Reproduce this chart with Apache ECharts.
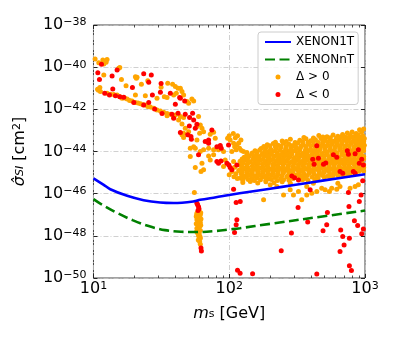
<!DOCTYPE html>
<html><head><meta charset="utf-8">
<script src="https://cdn.jsdelivr.net/npm/echarts@6/dist/echarts.min.js"></script>
<style>html,body{margin:0;padding:0;background:#fff}#c{width:398px;height:342px}</style>
</head><body><div id="c"></div><script>
const FONT = 'DejaVu Sans';

// Exclusion limit curves: mass [GeV], cross-section [cm^2]
const massXenon1T = [10, 11.9, 13.3, 17.7, 23.4, 31, 39, 55, 61, 80, 100, 142, 200, 300, 500, 1000];
const sigmaXenon1T = [5.37e-46, 2.63e-46, 1.62e-46, 7.9e-47, 4.9e-47, 3.8e-47, 3.6e-47, 4.3e-47, 5.1e-47, 6.8e-47, 8.7e-47, 1.23e-46, 1.72e-46, 2.57e-46, 4.27e-46, 8.3e-46];
const massXenonNT = [10, 11.3, 14.9, 19.6, 25.5, 33.6, 44.2, 58, 80, 100, 120, 200, 500, 1000];
const sigmaXenonNT = [5.5e-47, 3.3e-47, 1.23e-47, 5.4e-48, 2.9e-48, 1.86e-48, 1.55e-48, 1.51e-48, 1.7e-48, 2.0e-48, 2.3e-48, 3.7e-48, 8.5e-48, 1.58e-47];

// Scan points as [log10(m / GeV), log10(sigma / cm^2)]
const posUpperBand = [
[1.012,-39.61],[1.039,-39.79],[1.069,-39.66],[1.093,-39.77],[1.100,-39.64],[1.076,-39.85],
[1.047,-40.97],[1.037,-41.10],[1.051,-41.16],[1.030,-41.05],[1.076,-40.37],
[1.194,-40.01],[1.186,-40.05],[1.206,-40.58],[1.240,-40.88],[1.309,-40.45],[1.321,-40.48],[1.316,-40.53],[1.353,-40.81],[1.400,-40.64],
[1.498,-40.95],[1.547,-40.76],[1.583,-40.81],[1.603,-40.92],[1.623,-41.00],[1.640,-41.00],
[1.468,-41.48],[1.522,-41.40],[1.542,-41.44],[1.591,-41.32],[1.610,-41.24],[1.652,-41.16],[1.664,-41.32],[1.689,-41.63],[1.701,-41.71],
[1.100,-41.24],[1.125,-41.29],[1.150,-41.30],[1.174,-41.32],[1.195,-41.40],[1.211,-41.48],[1.230,-41.46],[1.248,-41.51],[1.266,-41.58],[1.284,-41.60],[1.309,-41.67],[1.328,-41.70],[1.346,-41.73],[1.365,-41.78],[1.382,-41.79],[1.400,-41.86],[1.419,-41.89],[1.444,-41.95],[1.468,-42.03],[1.493,-42.08],[1.517,-42.14],[1.542,-42.20],[1.566,-42.23],[1.603,-42.27],[1.640,-42.34],[1.664,-42.39],
[1.309,-41.32],[1.382,-41.35],[1.542,-42.30],[1.590,-42.37],[1.627,-42.50],[1.652,-42.69],[1.676,-42.90],[1.701,-43.06],[1.664,-43.13],[1.762,-43.45],[1.738,-43.77],[1.713,-44.24],[1.750,-43.85]
];
const posMidBand = [
[1.725,-41.51],[1.738,-41.60],[1.774,-42.34],[1.787,-42.74],[1.762,-42.82],[1.799,-42.90],[1.782,-43.13],[1.811,-43.06],[1.652,-43.21],[1.664,-43.34],[1.885,-43.09],[1.860,-43.18],[1.897,-43.37],[1.713,-43.85],[1.787,-44.00],[1.811,-43.92],[1.848,-43.85],[1.885,-43.92],[1.921,-43.92],[1.958,-44.00],[1.988,-43.37],[2.007,-43.45],[2.032,-43.61],[2.056,-43.69],[2.061,-43.25],[2.086,-43.45],[2.051,-43.92],[2.019,-44.00],[2.076,-43.85],[2.105,-44.00],[1.848,-44.21],[1.885,-44.16],[1.860,-44.40],[1.970,-44.40],[1.958,-44.71],[2.032,-44.48],[2.081,-44.64],[2.118,-44.79],[2.130,-44.95],[2.093,-45.03],[1.750,-44.76],[1.799,-44.56],[1.811,-44.87],[1.792,-44.95],[2.142,-45.11],[2.113,-45.19],
[2.000,-43.25],[2.030,-43.15],[2.045,-43.35],[2.070,-43.60],[2.040,-43.78],[2.090,-43.95],[2.130,-44.05],[2.020,-44.95],[2.050,-45.05],[2.070,-44.90],[2.035,-45.20],[2.060,-45.28],[2.000,-45.10],[2.040,-44.75]
];
const posSpike = [
[1.777,-46.80],[1.769,-46.88],[1.762,-46.93],[1.774,-46.95],[1.790,-46.90],[1.787,-47.00],[1.760,-47.02],[1.757,-47.08],[1.769,-47.11],[1.782,-47.16],[1.792,-47.20],[1.762,-47.24],[1.774,-47.32],[1.787,-47.37],[1.757,-47.43],[1.769,-47.48],[1.790,-47.50],[1.782,-47.56],[1.762,-47.64],[1.774,-47.72],[1.787,-47.75],[1.760,-47.80],[1.767,-47.86],[1.779,-47.91],[1.774,-48.00],[1.785,-48.04],[1.787,-48.12],[1.772,-48.20],[1.782,-48.27],[1.787,-48.40],[1.743,-45.95]
];
const posCloud = [
[2.96,-42.97],[2.99,-42.93],[2.87,-43.12],[2.905,-43.07],[2.935,-43.15],[2.975,-43.08],
[2.66,-43.24],[2.72,-43.30],[2.765,-43.22],[2.80,-43.28],[2.835,-43.19],[2.855,-43.33],[2.89,-43.24],[2.92,-43.29],[2.95,-43.21],[2.985,-43.26],
[2.39,-43.50],[2.45,-43.42],[2.52,-43.47],[2.565,-43.40],[2.60,-43.49],[2.635,-43.44],[2.675,-43.38],[2.705,-43.47],[2.74,-43.41],[2.775,-43.50],[2.81,-43.43],[2.845,-43.46],[2.88,-43.40],[2.915,-43.48],[2.945,-43.42],[2.975,-43.47],[2.995,-43.38],
[2.28,-43.68],[2.325,-43.62],[2.36,-43.70],[2.40,-43.61],[2.44,-43.66],[2.475,-43.71],[2.505,-43.60],[2.545,-43.67],[2.585,-43.63],[2.62,-43.69],[2.655,-43.60],[2.69,-43.66],[2.725,-43.71],[2.76,-43.62],[2.795,-43.68],[2.83,-43.63],[2.865,-43.70],[2.90,-43.61],[2.935,-43.67],[2.97,-43.64],[2.995,-43.70],
[2.235,-43.86],[2.27,-43.82],[2.305,-43.89],[2.345,-43.84],[2.38,-43.80],[2.415,-43.88],[2.455,-43.83],[2.49,-43.87],[2.525,-43.81],[2.565,-43.86],[2.60,-43.90],[2.635,-43.82],[2.67,-43.87],[2.705,-43.83],[2.745,-43.89],[2.78,-43.81],[2.815,-43.86],[2.85,-43.84],[2.885,-43.89],[2.92,-43.82],[2.955,-43.87],[2.99,-43.83],
[2.17,-44.07],[2.205,-44.02],[2.245,-44.09],[2.285,-44.04],[2.32,-44.00],[2.355,-44.08],[2.395,-44.03],[2.43,-44.07],[2.465,-44.01],[2.505,-44.06],[2.54,-44.10],[2.575,-44.03],[2.615,-44.07],[2.65,-44.02],[2.685,-44.09],[2.72,-44.04],[2.76,-44.00],[2.795,-44.07],[2.835,-44.03],[2.87,-44.08],[2.905,-44.02],[2.94,-44.06],[2.975,-44.01],
[2.11,-44.27],[2.145,-44.22],[2.18,-44.29],[2.22,-44.24],[2.26,-44.20],[2.295,-44.28],[2.33,-44.23],[2.37,-44.27],[2.405,-44.21],[2.445,-44.26],[2.48,-44.30],[2.52,-44.23],[2.555,-44.27],[2.59,-44.22],[2.63,-44.28],[2.665,-44.24],[2.70,-44.20],[2.74,-44.27],[2.775,-44.23],[2.81,-44.29],[2.85,-44.22],[2.885,-44.26],[2.92,-44.21],[2.955,-44.28],[2.99,-44.24],
[2.08,-44.46],[2.12,-44.42],[2.155,-44.49],[2.195,-44.44],[2.23,-44.40],[2.27,-44.48],[2.305,-44.43],[2.345,-44.47],[2.385,-44.41],[2.42,-44.46],[2.46,-44.50],[2.495,-44.43],[2.535,-44.47],[2.57,-44.42],[2.61,-44.48],[2.645,-44.44],[2.685,-44.40],[2.72,-44.47],[2.76,-44.43],[2.795,-44.49],[2.835,-44.42],[2.87,-44.46],[2.905,-44.41],[2.94,-44.48],[2.975,-44.44],
[2.09,-44.67],[2.13,-44.62],[2.17,-44.69],[2.205,-44.64],[2.245,-44.60],[2.28,-44.68],[2.32,-44.63],[2.355,-44.67],[2.395,-44.61],[2.435,-44.66],[2.47,-44.70],[2.51,-44.63],[2.545,-44.67],[2.585,-44.62],[2.62,-44.68],[2.66,-44.64],[2.695,-44.60],[2.735,-44.67],[2.77,-44.63],[2.81,-44.69],[2.845,-44.62],[2.88,-44.66],[2.92,-44.61],[2.955,-44.68],[2.99,-44.63],
[2.08,-44.86],[2.115,-44.82],[2.15,-44.89],[2.19,-44.84],[2.23,-44.80],[2.265,-44.88],[2.30,-44.83],[2.34,-44.87],[2.38,-44.81],[2.415,-44.86],[2.455,-44.90],[2.49,-44.83],[2.53,-44.87],[2.565,-44.82],[2.60,-44.88],[2.64,-44.84],[2.675,-44.80],[2.715,-44.87],[2.75,-44.83],[2.79,-44.89],[2.825,-44.82],[2.86,-44.86],[2.90,-44.81],[2.935,-44.88],[2.97,-44.84],
[2.09,-45.07],[2.13,-45.02],[2.17,-45.09],[2.21,-45.04],[2.25,-45.00],[2.285,-45.08],[2.325,-45.03],[2.36,-45.07],[2.40,-45.01],[2.44,-45.06],[2.475,-45.10],[2.515,-45.03],[2.55,-45.07],[2.59,-45.02],[2.625,-45.08],[2.665,-45.04],[2.70,-45.00],[2.74,-45.06],[2.78,-45.03],[2.815,-45.08],[2.855,-45.02],[2.89,-45.06],[2.93,-45.01],
[2.08,-45.26],[2.12,-45.22],[2.165,-45.29],[2.205,-45.24],[2.25,-45.20],[2.29,-45.28],[2.335,-45.23],[2.38,-45.27],[2.425,-45.21],[2.47,-45.28],[2.52,-45.22],[2.56,-45.27],[2.61,-45.21],[2.655,-45.26],[2.70,-45.22],[2.745,-45.24],
[2.10,-45.47],[2.155,-45.42],[2.21,-45.49],[2.27,-45.44],[2.33,-45.48],[2.39,-45.43],[2.45,-45.50]
];
const posCloudInner = [
[2.55,-43.34],[2.62,-43.36],[2.69,-43.31],[2.745,-43.35],[2.79,-43.37],[2.82,-43.33],[2.87,-43.35],[2.905,-43.32],[2.94,-43.36],[2.97,-43.33],
[2.34,-43.56],[2.42,-43.53],[2.485,-43.57],[2.54,-43.54],[2.58,-43.56],[2.62,-43.53],[2.655,-43.57],[2.69,-43.54],[2.725,-43.56],[2.76,-43.53],[2.795,-43.57],[2.83,-43.55],[2.865,-43.53],[2.895,-43.57],[2.93,-43.54],[2.96,-43.56],[2.99,-43.53],
[2.255,-43.76],[2.30,-43.73],[2.34,-43.77],[2.38,-43.74],[2.42,-43.76],[2.46,-43.73],[2.49,-43.77],[2.53,-43.74],[2.565,-43.76],[2.60,-43.73],[2.64,-43.77],[2.675,-43.74],[2.71,-43.76],[2.745,-43.73],[2.78,-43.77],[2.815,-43.74],[2.85,-43.76],[2.885,-43.73],[2.92,-43.77],[2.955,-43.74],[2.985,-43.76],
[2.19,-43.96],[2.225,-43.93],[2.265,-43.97],[2.305,-43.94],[2.34,-43.96],[2.375,-43.93],[2.415,-43.97],[2.45,-43.94],[2.485,-43.96],[2.52,-43.93],[2.56,-43.97],[2.595,-43.94],[2.63,-43.96],[2.665,-43.93],[2.705,-43.97],[2.74,-43.94],[2.775,-43.96],[2.815,-43.93],[2.85,-43.97],[2.885,-43.94],[2.92,-43.96],[2.96,-43.93],[2.99,-43.97],
[2.13,-44.16],[2.165,-44.13],[2.20,-44.17],[2.24,-44.14],[2.275,-44.16],[2.31,-44.13],[2.35,-44.17],[2.385,-44.14],[2.425,-44.16],[2.46,-44.13],[2.50,-44.17],[2.535,-44.14],[2.57,-44.16],[2.61,-44.13],[2.645,-44.17],[2.68,-44.14],[2.72,-44.16],[2.755,-44.13],[2.79,-44.17],[2.83,-44.14],[2.865,-44.16],[2.90,-44.13],[2.935,-44.17],[2.97,-44.14],
[2.095,-44.36],[2.135,-44.33],[2.175,-44.37],[2.21,-44.34],[2.25,-44.36],[2.285,-44.33],[2.325,-44.37],[2.36,-44.34],[2.40,-44.36],[2.435,-44.33],[2.475,-44.37],[2.51,-44.34],[2.55,-44.36],[2.585,-44.33],[2.625,-44.37],[2.66,-44.34],[2.70,-44.36],[2.735,-44.33],[2.775,-44.37],[2.81,-44.34],[2.85,-44.36],[2.885,-44.33],[2.925,-44.37],[2.96,-44.34],[2.99,-44.36],
[2.10,-44.56],[2.14,-44.53],[2.18,-44.57],[2.215,-44.54],[2.255,-44.56],[2.29,-44.53],[2.33,-44.57],[2.37,-44.54],[2.405,-44.56],[2.445,-44.53],[2.48,-44.57],[2.52,-44.54],[2.555,-44.56],[2.595,-44.53],[2.63,-44.57],[2.67,-44.54],[2.705,-44.56],[2.745,-44.53],[2.78,-44.57],[2.82,-44.54],[2.855,-44.56],[2.895,-44.53],[2.93,-44.57],[2.97,-44.54],
[2.10,-44.76],[2.135,-44.73],[2.175,-44.77],[2.21,-44.74],[2.25,-44.76],[2.285,-44.73],[2.325,-44.77],[2.36,-44.74],[2.40,-44.76],[2.435,-44.73],[2.475,-44.77],[2.51,-44.74],[2.55,-44.76],[2.585,-44.73],[2.625,-44.77],[2.66,-44.74],[2.70,-44.76],[2.735,-44.73],[2.775,-44.77],[2.81,-44.74],[2.85,-44.76],[2.885,-44.73],[2.925,-44.77],[2.96,-44.74],[2.99,-44.76],
[2.095,-44.96],[2.135,-44.93],[2.17,-44.97],[2.21,-44.94],[2.245,-44.96],[2.285,-44.93],[2.32,-44.97],[2.36,-44.94],[2.395,-44.96],[2.435,-44.93],[2.47,-44.97],[2.51,-44.94],[2.545,-44.96],[2.585,-44.93],[2.62,-44.97],[2.66,-44.94],[2.695,-44.96],[2.735,-44.93],[2.77,-44.97],[2.81,-44.94],[2.845,-44.96],[2.88,-44.93],[2.915,-44.97],[2.955,-44.94],[2.99,-44.92],
[2.10,-45.16],[2.15,-45.13],[2.19,-45.17],[2.23,-45.14],[2.27,-45.16],[2.31,-45.13],[2.35,-45.17],[2.39,-45.14],[2.43,-45.16],[2.495,-45.13],[2.535,-45.17],[2.575,-45.14],[2.645,-45.16],[2.685,-45.13],[2.725,-45.17],[2.765,-45.14],[2.80,-45.13],[2.84,-45.12],[2.875,-45.14],
[2.10,-45.36],[2.14,-45.33],[2.185,-45.37],[2.23,-45.34],[2.27,-45.36],[2.31,-45.33],[2.355,-45.37],[2.40,-45.34],[2.44,-45.36],[2.54,-45.34],[2.58,-45.36],[2.63,-45.33]
];
const posBelowLimit = [
[2.302,-45.58],[2.351,-45.66],[2.449,-45.82],[2.400,-46.06],[2.473,-46.06],[2.510,-45.90],[2.534,-46.29],[2.253,-46.29],[2.571,-46.06],[2.571,-45.66],[2.608,-45.98],[2.645,-45.90],[2.681,-45.74],[2.706,-45.82],[2.738,-45.90],[2.755,-45.74],[2.792,-45.79],[2.816,-45.66],[2.890,-45.74],[2.927,-45.66],[2.951,-45.58],[2.620,-45.50],[2.800,-45.50]
];

const negUpperBand = [
[1.059,-39.86],[1.032,-40.26],[1.044,-40.58],[1.174,-40.13],[1.137,-40.42],[1.142,-41.03],[1.083,-41.24],[1.118,-41.32],[1.162,-41.36],[1.194,-41.40],[1.223,-41.43],[1.287,-40.97],[1.370,-40.31],[1.426,-40.37],[1.407,-40.72],[1.498,-40.78],[1.493,-41.19],[1.434,-41.32],[1.566,-41.24],[1.635,-41.44],[1.603,-41.76],[1.672,-41.60],[1.297,-41.67],[1.370,-41.79],[1.407,-41.67],[1.451,-41.98],[1.505,-42.20],[1.578,-42.23],[1.623,-42.19],[1.676,-42.23],[1.591,-42.42],[1.640,-43.10],[1.706,-42.79],[1.721,-43.42],[1.774,-44.16]
];
const negMidBand = [
[1.640,-41.48],[1.730,-42.19],[1.708,-42.39],[1.738,-42.50],[1.694,-43.21],[1.718,-43.29],[1.750,-42.90],[1.762,-42.71],[1.872,-42.98],[1.848,-43.45],[1.823,-43.53],[1.848,-43.61],[1.909,-43.77],[1.941,-43.85],[1.934,-43.72],[1.995,-43.69],[1.909,-44.48],[1.921,-44.56],[1.939,-44.45],[1.983,-44.56],[1.997,-44.64],[2.007,-44.76],[2.019,-44.87],[2.056,-44.64]
];
const negSpike = [
[1.762,-46.45],[1.767,-46.53],[1.774,-46.62],[1.777,-46.72],[1.770,-46.80],[1.792,-48.58],[1.795,-48.72]
];
const negCloud = [
[2.645,-43.73],[2.615,-44.37],[2.657,-44.32],[2.625,-44.60],[2.694,-44.60],[2.767,-44.16],[2.792,-44.27],[2.870,-43.97],[2.878,-44.13],[2.927,-44.11],[2.951,-43.92],[2.958,-44.56],[2.988,-44.64],[2.711,-44.55],[2.976,-44.37],[2.816,-44.95],[2.836,-45.03],[2.914,-44.95],[2.927,-45.03],[2.461,-45.16],[2.481,-45.24],[2.510,-45.35],[2.983,-45.39]
];
const negBelowLimit = [
[2.596,-45.82],[2.878,-45.95],[2.971,-46.06],[2.958,-46.37],[2.882,-46.61],[2.507,-46.66],[2.723,-46.89],[2.922,-47.29],[2.578,-47.34],[2.718,-47.48],[2.946,-47.51],[2.988,-47.68],[2.691,-47.76],[2.821,-47.72],[2.458,-47.87],[2.976,-47.90],[2.836,-48.03],[2.885,-48.11],[2.846,-48.43],[2.383,-48.71],[2.816,-48.74],[2.885,-49.42],[2.900,-49.64],[2.172,-49.80],[2.645,-49.81],
[2.032,-45.79],[2.051,-46.42],[2.081,-46.37],[2.056,-47.24],[2.051,-47.48],[2.039,-47.84],[2.061,-49.63],[2.080,-49.78]
];

// axis: log10 decades shown, minor tick masses [GeV]
const xDecades = [1, 3];
const yDecades = [-50, -38];
const xMinorTickMasses = [20, 30, 40, 50, 60, 70, 80, 90, 200, 300, 400, 500, 600, 700, 800, 900];

const posData = [].concat(posUpperBand, posMidBand, posSpike, posCloud, posCloudInner, posBelowLimit);
const negData = [].concat(negUpperBand, negMidBand, negSpike, negCloud, negBelowLimit);
const line1T = massXenon1T.map((m, i) => [Math.log10(m), Math.log10(sigmaXenon1T[i])]);
const lineNT = massXenonNT.map((m, i) => [Math.log10(m), Math.log10(sigmaXenonNT[i])]);

function powLabel(v) {
  const n = Math.round(v);
  return '{b|10}{s|' + (n < 0 ? '\u2212' : '') + Math.abs(n) + '}';
}
const powRich = {
  b: {fontSize: 16, fontFamily: FONT, color: '#000', lineHeight: 16, padding: [2, 0, 0, 0], verticalAlign: 'bottom'},
  s: {fontSize: 11, fontFamily: FONT, color: '#000', lineHeight: 11, verticalAlign: 'top'}
};
const nameRich = {
  i: {fontSize: 16, fontFamily: FONT, fontStyle: 'italic', color: '#000', lineHeight: 16, padding: [4, 0, 4, 0]},
  t: {fontSize: 16, fontFamily: FONT, color: '#000', lineHeight: 16, padding: [4, 0, 4, 0]},
  sub: {fontSize: 11, fontFamily: FONT, fontStyle: 'italic', color: '#000', lineHeight: 11, padding: [0, 0, 2, 0], verticalAlign: 'bottom'},
  subr: {fontSize: 11, fontFamily: FONT, color: '#000', lineHeight: 11, padding: [0, 0, 2, 0], verticalAlign: 'bottom'},
  sup: {fontSize: 11, fontFamily: FONT, color: '#000', lineHeight: 11, verticalAlign: 'top'}
};
const tickColor = '#222';
const gridLine = {show: true, lineStyle: {color: '#c4c4c4', width: 0.8, type: [5, 2, 1, 2]}};
const baseX = {type: 'value', min: xDecades[0], max: xDecades[1], interval: 1, gridIndex: 0};
const baseY = {type: 'value', min: yDecades[0], max: yDecades[1], interval: 2, gridIndex: 0};
const majorTick = {show: true, inside: true, length: 4, lineStyle: {color: tickColor, width: 1}};
const hideLine = {show: false};
const noStyle = {color: 'rgba(0,0,0,0)', borderWidth: 0};

const chart = echarts.init(document.getElementById('c'), null, {renderer: 'canvas'});
chart.setOption({
  animation: false,
  backgroundColor: '#fff',
  grid: {left: 93, top: 25, width: 272, height: 253, show: true, borderColor: '#444', borderWidth: 1},
  legend: {
    orient: 'vertical', left: 258, top: 32, padding: [4, 4, 4, 6],
    itemWidth: 26, itemHeight: 5, itemGap: 5.5,
    backgroundColor: 'rgba(255,255,255,0.8)', borderColor: '#cccccc', borderWidth: 1, borderRadius: 3,
    textStyle: {fontSize: 12, fontFamily: FONT, color: '#000', lineHeight: 12},
    data: [
      {name: 'XENON1T', itemStyle: noStyle},
      {name: 'XENONnT', itemStyle: noStyle},
      'Δ > 0', 'Δ < 0'
    ]
  },
  xAxis: [
    Object.assign({}, baseX, {
      position: 'bottom', axisLine: hideLine, axisTick: majorTick,
      axisLabel: {formatter: powLabel, rich: powRich, margin: 3},
      splitLine: gridLine,
      name: '{i|m}{subr|s}{t| [GeV]}', nameLocation: 'middle', nameGap: 19,
      nameTextStyle: {rich: nameRich}
    }),
    Object.assign({}, baseX, {
      position: 'top', axisLine: hideLine, axisTick: majorTick,
      axisLabel: {show: false}, splitLine: {show: false}
    })
  ],
  yAxis: [
    Object.assign({}, baseY, {
      position: 'left', axisLine: hideLine, axisTick: majorTick,
      axisLabel: {formatter: powLabel, rich: powRich, margin: 7},
      splitLine: gridLine,
      name: '{i|σ̂}{sub|SI}{t| [cm}{sup|2}{t|]}', nameLocation: 'middle', nameGap: 42, nameRotate: 90,
      nameTextStyle: {rich: nameRich}
    }),
    Object.assign({}, baseY, {
      position: 'right', axisLine: hideLine, axisTick: majorTick,
      axisLabel: {show: false}, splitLine: {show: false}
    })
  ],
  series: [
    {name: 'XENON1T', type: 'line', data: line1T, showSymbol: false, symbol: 'none', smooth: 0.35,
     lineStyle: {color: '#0000ff', width: 2.6}, itemStyle: {color: '#0000ff'}},
    {name: 'XENONnT', type: 'line', data: lineNT, showSymbol: false, symbol: 'none', smooth: 0.35,
     lineStyle: {color: '#008000', width: 2.6, type: [10, 4.5]}, itemStyle: {color: '#008000'}},
    {name: 'Δ > 0', type: 'scatter', data: posData, symbol: 'circle', symbolSize: 5, itemStyle: {color: '#ffa500', opacity: 1}},
    {name: 'Δ < 0', type: 'scatter', data: negData, symbol: 'circle', symbolSize: 5, itemStyle: {color: '#ff0000', opacity: 1}}
  ]
});

// minor (log-spaced) ticks on bottom and top edges, placed through the x axis scale
const yBottom = chart.convertToPixel({yAxisIndex: 0}, yDecades[0]);
const yTop = chart.convertToPixel({yAxisIndex: 0}, yDecades[1]);
const minorEls = [];
xMinorTickMasses.forEach(m => {
  const px = Math.round(chart.convertToPixel({xAxisIndex: 0}, Math.log10(m))) + 0.5;
  minorEls.push({type: 'line', silent: true, z: 10, shape: {x1: px, y1: yBottom, x2: px, y2: yBottom - 2.5}, style: {stroke: tickColor, lineWidth: 0.8}});
  minorEls.push({type: 'line', silent: true, z: 10, shape: {x1: px, y1: yTop, x2: px, y2: yTop + 2.5}, style: {stroke: tickColor, lineWidth: 0.8}});
});
chart.setOption({graphic: minorEls});
</script></body></html>
